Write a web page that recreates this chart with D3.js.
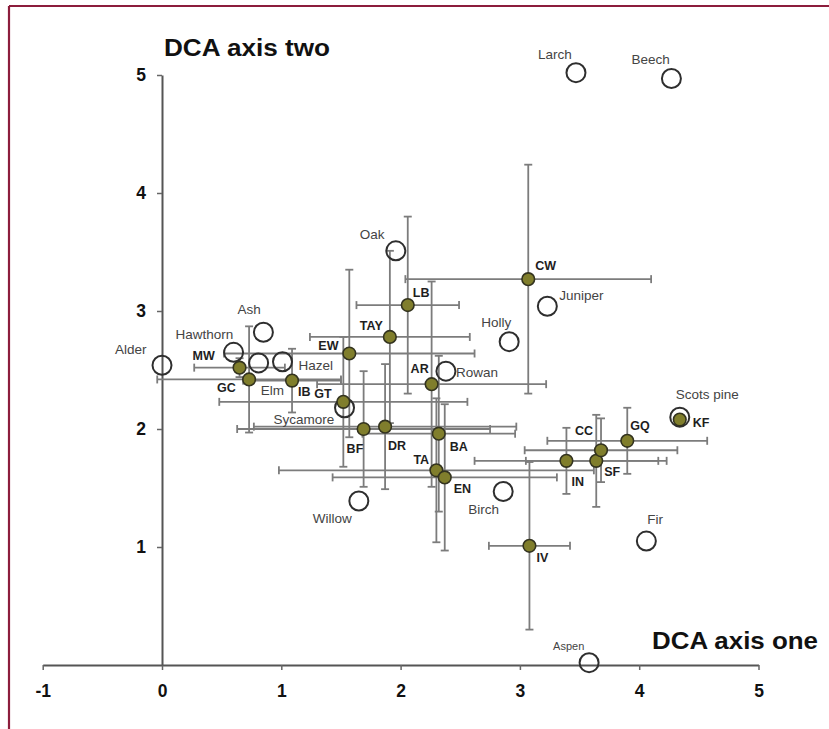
<!DOCTYPE html>
<html>
<head>
<meta charset="utf-8">
<script src="https://cdn.jsdelivr.net/npm/d3@7"></script>
<style>
  html, body { margin: 0; padding: 0; background: #ffffff; }
  svg { display: block; }
  text { font-family: Arial, "Liberation Sans", Helvetica, sans-serif; }
</style>
</head>
<body>
<svg id="chart" width="829" height="729"></svg>
<script>
// Site scores (mean DCA axis one / axis two, with one standard deviation)
const siteNames = ["MW","GC","IB","GT","EW","TAY","LB","CW","AR","BF",
                   "DR","BA","TA","EN","IV","IN","SF","CC","GQ","KF"];
const siteAxis1 = [0.65,0.73,1.09,1.52,1.57,1.91,2.06,3.07,2.26,1.69,
                   1.87,2.32,2.30,2.37,3.08,3.39,3.64,3.68,3.90,4.34];
const siteAxis2 = [2.52,2.42,2.41,2.23,2.64,2.78,3.05,3.27,2.38,2.00,
                   2.02,1.96,1.65,1.59,1.01,1.73,1.73,1.82,1.90,2.08];
const siteSd1   = [0.38,0.77,0.41,1.04,1.05,0.67,0.43,1.03,0.96,1.06,
                   1.10,0.64,1.32,0.94,0.34,0.77,0.59,0.64,0.67,0.00];
const siteSd2   = [0.08,0.45,0.27,0.55,0.71,0.73,0.75,0.97,0.87,0.49,
                   0.53,0.66,0.61,0.62,0.71,0.28,0.39,0.27,0.28,0.00];

// Tree species scores
const speciesNames = ["Larch","Beech","Oak","Juniper","Holly","Ash","Hawthorn","Alder",
                      "Elm","Hazel","Sycamore","Rowan","Scots pine","Fir","Birch","Willow","Aspen"];
const speciesAxis1 = [3.47,4.27,1.96,3.23,2.91,0.85,0.60,0.00,
                      0.81,1.01,1.53,2.38,4.34,4.06,2.86,1.65,3.58];
const speciesAxis2 = [5.02,4.97,3.51,3.04,2.74,2.82,2.65,2.54,
                      2.56,2.57,2.18,2.49,2.10,1.05,1.47,1.39,0.02];

const xTicks = [-1,0,1,2,3,4,5];
const yTicks = [1,2,3,4,5];

// Label placement relative to each mark (pixels, left edge / baseline)
const siteLabelOffset = {
  MW:[-47,-8], GC:[-32,13], IB:[6,15], GT:[-29,-4], EW:[-31,-3], TAY:[-30,-7],
  LB:[5,-8], CW:[7,-9], AR:[-21,-11], BF:[-17,24], DR:[3,23], BA:[11,17],
  TA:[-23,-6], EN:[9,16], IV:[7,16], IN:[5,25], SF:[8,15], CC:[-26,-15],
  GQ:[3,-11], KF:[13,7]
};
const speciesLabelOffset = {
  "Larch":[-38,-14], "Beech":[-40,-15], "Oak":[-36,-12], "Juniper":[12,-6],
  "Holly":[-28,-15], "Ash":[-26,-18], "Hawthorn":[-58,-13], "Alder":[-47,-11],
  "Elm":[2,32], "Hazel":[16,8], "Sycamore":[-71,16], "Rowan":[10,6],
  "Scots pine":[-4,-18], "Fir":[1,-17], "Birch":[-35,22], "Willow":[-46,22],
  "Aspen":[-36,-13]
};

const svg = d3.select("#chart");

// frame
svg.append("line").attr("x1", 9).attr("x2", 829).attr("y1", 6).attr("y2", 6)
   .attr("stroke", "#8c1d3c").attr("stroke-width", 2.2);
svg.append("line").attr("x1", 9).attr("x2", 9).attr("y1", 6).attr("y2", 729)
   .attr("stroke", "#8c1d3c").attr("stroke-width", 2.2);

const x = d3.scaleLinear().domain([-1, 5]).range([42.7, 758.5]);
const y = d3.scaleLinear().domain([0, 5]).range([665, 75]);

// axes
const xAxis = svg.append("g")
  .attr("transform", `translate(0,${y(0)})`)
  .call(d3.axisBottom(x).tickValues(xTicks).tickFormat(d => String(d))
        .tickSizeInner(5).tickSizeOuter(0).tickPadding(15));
const yAxis = svg.append("g")
  .attr("transform", `translate(${x(0)},0)`)
  .call(d3.axisLeft(y).tickValues(yTicks).tickFormat(d => String(d))
        .tickSizeInner(5).tickSizeOuter(0).tickPadding(11));
[xAxis, yAxis].forEach(g => {
  g.select(".domain").attr("stroke", "#555").attr("stroke-width", 2);
  g.selectAll(".tick line").attr("stroke", "#666").attr("stroke-width", 1.5);
  g.selectAll(".tick text").attr("fill", "#111").style("font-size", "17.5px")
    .style("font-weight", "bold").style("font-family", "Arial, 'Liberation Sans', sans-serif");
});

// axis titles
svg.append("text").attr("x", 164).attr("y", 56).text("DCA axis two")
  .attr("textLength", 166).attr("lengthAdjust", "spacingAndGlyphs")
  .attr("fill", "#111").style("font-size", "23px").style("font-weight", "bold");
svg.append("text").attr("x", 652).attr("y", 649).text("DCA axis one")
  .attr("textLength", 166).attr("lengthAdjust", "spacingAndGlyphs")
  .attr("fill", "#111").style("font-size", "23px").style("font-weight", "bold");

const sites = siteNames.map((n, i) => ({
  name: n, a1: siteAxis1[i], a2: siteAxis2[i], s1: siteSd1[i], s2: siteSd2[i]
}));
const species = speciesNames.map((n, i) => ({ name: n, a1: speciesAxis1[i], a2: speciesAxis2[i] }));

// error bars (± one standard deviation on both axes)
const bars = svg.append("g").attr("stroke", "#7c7c7c").attr("stroke-width", 1.8).attr("fill", "none");
const cap = 4;
sites.filter(d => d.s1 > 0 || d.s2 > 0).forEach(d => {
  const cx = x(d.a1), cy = y(d.a2);
  const xl = x(d.a1 - d.s1), xr = x(d.a1 + d.s1);
  const yt = y(d.a2 + d.s2), yb = y(d.a2 - d.s2);
  bars.append("line").attr("x1", xl).attr("x2", xr).attr("y1", cy).attr("y2", cy);
  bars.append("line").attr("x1", xl).attr("x2", xl).attr("y1", cy - cap).attr("y2", cy + cap);
  bars.append("line").attr("x1", xr).attr("x2", xr).attr("y1", cy - cap).attr("y2", cy + cap);
  bars.append("line").attr("x1", cx).attr("x2", cx).attr("y1", yt).attr("y2", yb);
  bars.append("line").attr("x1", cx - cap).attr("x2", cx + cap).attr("y1", yt).attr("y2", yt);
  bars.append("line").attr("x1", cx - cap).attr("x2", cx + cap).attr("y1", yb).attr("y2", yb);
});

// species: open circles
svg.append("g").selectAll("circle").data(species).join("circle")
  .attr("cx", d => x(d.a1)).attr("cy", d => y(d.a2)).attr("r", 9.5)
  .attr("fill", "none").attr("stroke", "#2e2e2e").attr("stroke-width", 2);

// sites: filled olive points
svg.append("g").selectAll("circle").data(sites).join("circle")
  .attr("cx", d => x(d.a1)).attr("cy", d => y(d.a2)).attr("r", 6.3)
  .attr("fill", "#807e2c").attr("stroke", "#33331f").attr("stroke-width", 1.6);

// labels
svg.append("g").selectAll("text").data(species).join("text")
  .attr("x", d => x(d.a1) + speciesLabelOffset[d.name][0])
  .attr("y", d => y(d.a2) + speciesLabelOffset[d.name][1])
  .attr("fill", "#444")
  .style("font-size", d => d.name === "Aspen" ? "11px" : "13.5px")
  .text(d => d.name);
svg.append("g").selectAll("text").data(sites).join("text")
  .attr("x", d => x(d.a1) + siteLabelOffset[d.name][0])
  .attr("y", d => y(d.a2) + siteLabelOffset[d.name][1])
  .attr("fill", "#1e1e1e").style("font-size", "12.5px").style("font-weight", "bold")
  .text(d => d.name);
</script>
</body>
</html>
